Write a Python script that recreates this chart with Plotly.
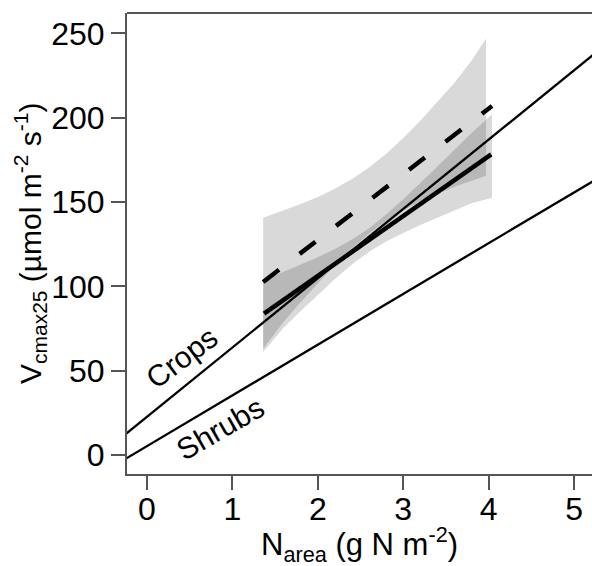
import plotly.graph_objects as go

# Reference lines for two plant functional types (g N m-2 -> umol m-2 s-1)
crops_x = [-0.3, 5.3]
crops_y = [10.3, 240.4]
shrubs_x = [-0.3, 5.3]
shrubs_y = [-3.8, 164.7]

# Fitted relationships over the observed N range
fit_solid_x = [1.37, 4.03]
fit_solid_y = [83.8, 178.3]
fit_dashed_x = [1.36, 4.04]
fit_dashed_y = [102.6, 207.0]

# Confidence band (lower / upper) for the dashed fit
band_dashed_x = [1.36, 1.6, 1.8, 2.0, 2.2, 2.4, 2.6, 2.8, 3.0, 3.2, 3.4, 3.6, 3.8, 3.97]
band_dashed_lo = [63.0, 79.0, 90.7, 102.0, 112.7, 122.6, 131.4, 138.8, 145.1, 150.4,
                  154.9, 159.0, 162.7, 165.6]
band_dashed_hi = [140.6, 144.9, 148.8, 153.0, 157.9, 163.6, 170.4, 178.6, 187.9, 198.2,
                  209.3, 220.8, 234.0, 247.0]

# Confidence band (lower / upper) for the solid fit
band_solid_x = [1.36, 1.6, 1.8, 2.0, 2.2, 2.4, 2.6, 2.8, 3.0, 3.2, 3.4, 3.6, 3.8, 4.04]
band_solid_lo = [61.0, 75.5, 85.4, 95.1, 104.4, 113.0, 120.5, 126.6, 131.7, 136.4,
                 140.8, 145.0, 149.2, 152.5]
band_solid_hi = [103.5, 108.5, 112.8, 117.3, 122.2, 127.8, 134.5, 142.6, 151.7, 161.2,
                 171.0, 181.0, 191.0, 202.0]

x_ticks = [0, 1, 2, 3, 4, 5]
y_ticks = [0, 50, 100, 150, 200, 250]

FONT = "Liberation Sans, Arial, Helvetica, sans-serif"
AXIS_GREY = "#555555"
BAND_FILL = "rgba(0,0,0,0.15)"

fig = go.Figure()


def add_band(xs, lo, hi):
    fig.add_trace(go.Scatter(
        x=list(xs) + list(xs)[::-1],
        y=list(hi) + list(lo)[::-1],
        fill="toself", fillcolor=BAND_FILL,
        line=dict(width=0), mode="lines", hoverinfo="skip", showlegend=False,
    ))


add_band(band_dashed_x, band_dashed_lo, band_dashed_hi)
add_band(band_solid_x, band_solid_lo, band_solid_hi)

fig.add_trace(go.Scatter(x=crops_x, y=crops_y, mode="lines",
                         line=dict(color="black", width=2.3), showlegend=False))
fig.add_trace(go.Scatter(x=shrubs_x, y=shrubs_y, mode="lines",
                         line=dict(color="black", width=2.3), showlegend=False))
fig.add_trace(go.Scatter(x=fit_solid_x, y=fit_solid_y, mode="lines",
                         line=dict(color="black", width=4.5), showlegend=False))
fig.add_trace(go.Scatter(x=fit_dashed_x, y=fit_dashed_y, mode="lines",
                         line=dict(color="black", width=4.5, dash="20px,26px"),
                         showlegend=False))

axis_common = dict(
    showgrid=False, zeroline=False, showline=True, linecolor=AXIS_GREY, linewidth=2,
    ticks="outside", ticklen=14, tickwidth=2, tickcolor=AXIS_GREY,
    tickfont=dict(family=FONT, size=32, color="black"),
)

fig.update_xaxes(range=[-0.234, 5.21], tickvals=x_ticks, ticklabelstandoff=-8,
                 **axis_common)
fig.update_yaxes(range=[-11.3, 262.1], tickvals=y_ticks, **axis_common)

label_font = dict(family=FONT, size=30, color="black")
annotations = [
    dict(text="Crops", x=0.41, y=57.5, xref="x", yref="y", textangle=-37,
         xanchor="center", yanchor="middle", showarrow=False, font=label_font),
    dict(text="Shrubs", x=0.855, y=15.4, xref="x", yref="y", textangle=-30,
         xanchor="center", yanchor="middle", showarrow=False, font=label_font),
    dict(text="N<sub>area</sub> (g N m<sup>-2</sup>)", x=0.501, y=-0.154,
         xref="paper", yref="paper", xanchor="center", yanchor="middle",
         showarrow=False, font=dict(family=FONT, size=31, color="black")),
    dict(text="V<sub>cmax25</sub> (µmol m<sup>-2</sup> s<sup>-1</sup>)",
         x=-0.2086, y=0.501, xref="paper", yref="paper", textangle=-90,
         xanchor="center", yanchor="middle",
         showarrow=False, font=dict(family=FONT, size=30, color="black")),
]

fig.update_layout(
    width=592, height=566,
    margin=dict(l=127, r=0, t=13, b=92),
    plot_bgcolor="white", paper_bgcolor="white",
    annotations=annotations,
    shapes=[dict(type="line", xref="paper", yref="paper", x0=0, x1=1, y0=1, y1=1,
                 line=dict(color=AXIS_GREY, width=2))],
)

fig.write_html("out.html")
